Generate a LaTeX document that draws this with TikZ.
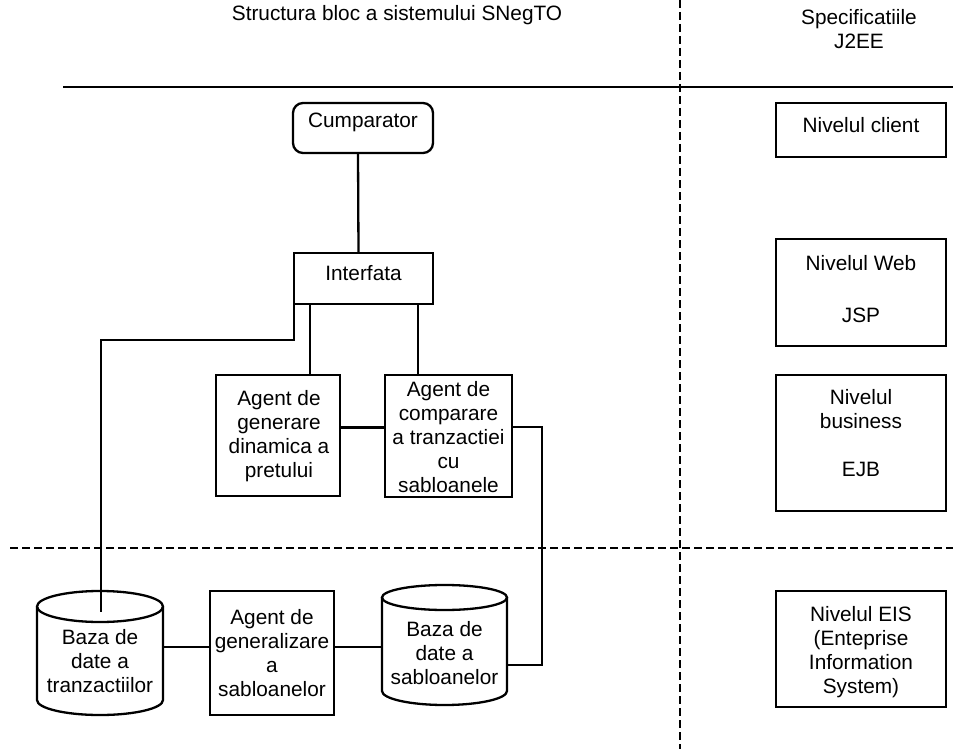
\documentclass[tikz,border=0pt]{standalone}
\usepackage{fontspec}
\setmainfont{Liberation Sans}
\usetikzlibrary{calc}
\begin{document}
\begin{tikzpicture}[x=1pt,y=-1pt,line width=2.3pt,
  box/.style={draw,rectangle,inner sep=0pt,outer sep=0pt},
  cylbox/.style={rectangle,inner sep=0pt,outer sep=0pt},
  txt/.style={align=center,inner sep=0pt,font=\fontsize{20.8}{24}\selectfont},
  dsh/.style={dash pattern=on 8pt off 4pt,line width=2pt}]
\useasboundingbox (0,0) rectangle (953,749);

% separators
\coordinate (vt) at (680,0); \coordinate (vb) at (680,749);
\draw[dsh] (vt) -- (vb);
\coordinate (hl) at (63,87); \coordinate (hr) at (953,87);
\draw[line width=2pt] (hl) -- (hr);
\coordinate (dl) at (10,548); \coordinate (dr) at (953,548);
\draw[dsh] (dl) -- (dr);

% headers
\node[txt] (title) at (397,15) {Structura bloc a sistemului SNegTO};
\node[txt] (spec) at (859,29) {Specificatiile\\J2EE};

% left blocks
\node[box,rounded corners=10pt,minimum width=140pt,minimum height=50pt] (cump) at (363,128) {};
\node[txt] (cumpT) at (363,122) {Cumparator};
\node[box,minimum width=139pt,minimum height=51pt] (interf) at (363.5,278.5) {};
\node[txt] (interfT) at (363.5,273) {Interfata};
\node[box,minimum width=124pt,minimum height=121pt] (ag1) at (278,435.5) {};
\node[txt] (ag1T) at (279,436) {Agent de\\generare\\dinamica a\\pretului};
\node[box,minimum width=127pt,minimum height=122pt] (ag2) at (448.5,436) {};
\node[txt] (ag2T) at (448.5,437) {Agent de\\comparare\\a tranzactiei\\cu\\sabloanele};
\node[box,minimum width=124pt,minimum height=124pt] (ag3) at (272,653) {};
\node[txt] (ag3T) at (272,653) {Agent de\\generalizare\\a\\sabloanelor};

% cylinders
\node[cylbox,minimum width=126pt,minimum height=124pt] (cyl1) at (100,653) {};
\draw ([yshift=-15.5pt]cyl1.north) ellipse [x radius=63pt,y radius=15.5pt];
\draw ([yshift=-15.5pt]cyl1.north west) -- ([yshift=15pt]cyl1.south west)
  arc[start angle=180,end angle=360,x radius=63pt,y radius=15pt]
  -- ([yshift=-15.5pt]cyl1.north east);
\node[txt] (cyl1T) at (100,661) {Baza de\\date a\\tranzactiilor};

\node[cylbox,minimum width=125pt,minimum height=120pt] (cyl2) at (444.5,645) {};
\draw ([yshift=-12.5pt]cyl2.north) ellipse [x radius=62.5pt,y radius=12.5pt];
\draw ([yshift=-12.5pt]cyl2.north west) -- ([yshift=14pt]cyl2.south west)
  arc[start angle=180,end angle=360,x radius=62.5pt,y radius=14pt]
  -- ([yshift=-12.5pt]cyl2.north east);
\node[txt] (cyl2T) at (444.5,653) {Baza de\\date a\\sabloanelor};

% connectors
\draw ([xshift=-5pt]cump.south) -- ([xshift=-5pt]interf.north);
\coordinate (i1) at ([xshift=16pt]interf.south west);
\coordinate (i2) at ([xshift=124pt]interf.south west);
\draw (i1) -- (i1 |- ag1.north);
\draw (i2) -- (i2 |- ag2.north);
\coordinate (c1top) at (101,612);
\draw (interf.south west) -- ++(0,36) -| (c1top);
\coordinate (a1e) at ([yshift=8pt]ag1.east);
\draw (a1e) -- (a1e -| ag2.west);
\coordinate (a2e) at ([yshift=9pt]ag2.east);
\coordinate (c2e) at ([yshift=-20pt]cyl2.east);
\draw (a2e) -- ++(30,0) |- (c2e);
\coordinate (c1e) at ([yshift=6pt]cyl1.east);
\draw (c1e) -- (c1e -| ag3.west);
\coordinate (a3e) at ([yshift=6pt]ag3.east);
\draw (a3e) -- (a3e -| cyl2.west);

% right column
\node[box,minimum width=170pt,minimum height=54pt] (client) at (861,130) {};
\node[txt] (clientT) at (861,125) {Nivelul client};
\node[box,minimum width=170pt,minimum height=107pt] (web) at (861,292.5) {};
\node[txt] (webT) at (861,289) {Nivelul Web\\[28pt]JSP};
\node[box,minimum width=170pt,minimum height=136pt] (bus) at (861,443) {};
\node[txt] (busT) at (861,433.5) {Nivelul\\business\\[24pt]EJB};
\node[box,minimum width=170pt,minimum height=116pt] (eis) at (861,649) {};
\node[txt] (eisT) at (861,652.5) {Nivelul EIS\\(Enteprise\\Information\\System)};
\end{tikzpicture}
\end{document}
